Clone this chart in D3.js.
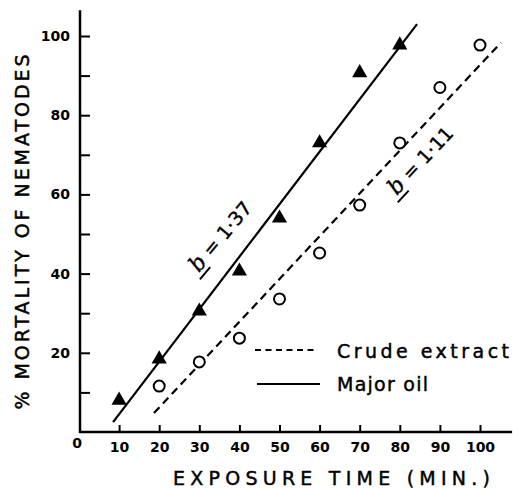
<!DOCTYPE html>
<html>
<head>
<meta charset="utf-8">
<script src="https://cdn.jsdelivr.net/npm/d3@7"></script>
<style>
  html, body { margin: 0; padding: 0; background: #fff; }
  svg text { font-family: 'DejaVu Sans', sans-serif; fill: #000; }
  .tick text { font-weight: bold; font-size: 14px; }
  .title { font-size: 19px; stroke: #000; stroke-width: 0.45px; }
</style>
</head>
<body>
<div id="chart"></div>
<script>
(function () {
  'use strict';

  // -----------------------------------------------------------------
  // Data
  // -----------------------------------------------------------------
  var majorTime = [10, 20, 30, 40, 50, 60, 70, 80];
  var majorMort = [8, 18.4, 30.5, 40.6, 54, 73, 90.7, 97.7];

  var crudeTime = [20, 30, 40, 50, 60, 70, 80, 90, 100];
  var crudeMort = [11.6, 17.7, 23.7, 33.6, 45.2, 57.3, 73, 87, 97.7];

  // fitted regression lines (end points as drawn)
  var majorFit = [[8.5, 2.5], [84.3, 103]];
  var crudeFit = [[18.7, 4.8], [105.2, 98.3]];

  var xTicks = [10, 20, 30, 40, 50, 60, 70, 80, 90, 100];
  var yTicks = [10, 20, 30, 40, 50, 60, 70, 80, 90, 100];
  var yLabels = [20, 40, 60, 80, 100];

  var W = 513, H = 489;

  var svg = d3.select('#chart').append('svg')
    .attr('width', W).attr('height', H)
    .attr('viewBox', '0 0 ' + W + ' ' + H);

  var x = d3.scaleLinear().domain([0, 100]).range([79, 480]);
  var y = d3.scaleLinear().domain([0, 100]).range([432, 36]);
  var ax = x(0) + 1;

  // -----------------------------------------------------------------
  // Axes
  // -----------------------------------------------------------------
  var yAxis = svg.append('g')
    .attr('transform', 'translate(' + ax + ',0)')
    .call(d3.axisLeft(y)
      .tickValues(yTicks)
      .tickSize(-10)
      .tickPadding(10)
      .tickFormat(function (d) { return yLabels.indexOf(d) >= 0 ? d : ''; }));
  yAxis.select('.domain').remove();
  yAxis.selectAll('.tick line').attr('stroke', '#000').attr('stroke-width', 2);

  var xAxis = svg.append('g')
    .attr('transform', 'translate(0,' + y(0) + ')')
    .call(d3.axisBottom(x)
      .tickValues(xTicks)
      .tickSize(-7)
      .tickPadding(10));
  xAxis.select('.domain').remove();
  xAxis.selectAll('.tick line').attr('stroke', '#000').attr('stroke-width', 2);

  // axis lines
  svg.append('line')
    .attr('x1', ax).attr('x2', ax)
    .attr('y1', y(0) + 1).attr('y2', y(106.5))
    .attr('stroke', '#000').attr('stroke-width', 2.5);
  svg.append('line')
    .attr('x1', ax - 1).attr('x2', x(108))
    .attr('y1', y(0)).attr('y2', y(0))
    .attr('stroke', '#000').attr('stroke-width', 2.5);

  // origin label
  svg.append('text')
    .attr('x', x(0) - 2).attr('y', y(0) + 16)
    .attr('text-anchor', 'middle')
    .style('font-weight', 'bold').style('font-size', '14px')
    .text('0');

  // axis titles
  svg.append('text')
    .attr('class', 'title')
    .attr('transform', 'translate(29,' + 232 + ') rotate(-90)')
    .attr('text-anchor', 'middle')
    .attr('textLength', 355).attr('lengthAdjust', 'spacing')
    .text('% MORTALITY OF NEMATODES');

  svg.append('text')
    .attr('class', 'title')
    .attr('x', 173).attr('y', 485)
    .attr('textLength', 317).attr('lengthAdjust', 'spacing')
    .text('EXPOSURE TIME (MIN.)');

  // -----------------------------------------------------------------
  // Fitted lines
  // -----------------------------------------------------------------
  var line = d3.line()
    .x(function (d) { return x(d[0]); })
    .y(function (d) { return y(d[1]); });

  svg.append('path')
    .attr('d', line(majorFit))
    .attr('fill', 'none').attr('stroke', '#000').attr('stroke-width', 2.2);

  svg.append('path')
    .attr('d', line(crudeFit))
    .attr('fill', 'none').attr('stroke', '#000').attr('stroke-width', 2.2)
    .attr('stroke-dasharray', '8,5');

  // -----------------------------------------------------------------
  // Points
  // -----------------------------------------------------------------
  var tri = d3.symbol().type(d3.symbolTriangle).size(100);
  svg.append('g').selectAll('path')
    .data(majorTime)
    .join('path')
    .attr('d', tri)
    .attr('transform', function (d, i) {
      return 'translate(' + x(d) + ',' + y(majorMort[i]) + ')';
    })
    .attr('fill', '#000');

  svg.append('g').selectAll('circle')
    .data(crudeTime)
    .join('circle')
    .attr('cx', function (d) { return x(d); })
    .attr('cy', function (d, i) { return y(crudeMort[i]); })
    .attr('r', 5.5)
    .attr('fill', '#fff')
    .attr('stroke', '#000').attr('stroke-width', 2);

  // -----------------------------------------------------------------
  // Slope annotations
  // -----------------------------------------------------------------
  function slopeLabel(cx, cy, angle, value) {
    var g = svg.append('g')
      .attr('transform', 'translate(' + cx + ',' + cy + ') rotate(' + angle + ')');
    var t = g.append('text')
      .attr('x', -40).attr('y', 7)
      .style('font-size', '19px')
      .style('stroke', '#000').style('stroke-width', '0.4px');
    t.append('tspan')
      .style('font-style', 'italic').style('font-family', 'DejaVu Serif, serif')
      .style('font-size', '22px')
      .text('b');
    t.append('tspan').text(' = ' + value);
    g.append('line')
      .attr('x1', -44).attr('x2', -28)
      .attr('y1', 12).attr('y2', 12)
      .attr('stroke', '#000').attr('stroke-width', 2);
  }
  slopeLabel(219, 238, -50, '1·37');
  slopeLabel(419, 162, -47, '1·11');

  // -----------------------------------------------------------------
  // Legend
  // -----------------------------------------------------------------
  var legend = svg.append('g');
  legend.append('line')
    .attr('x1', 255).attr('x2', 318).attr('y1', 350).attr('y2', 350)
    .attr('stroke', '#000').attr('stroke-width', 2)
    .attr('stroke-dasharray', '6,4.5');
  legend.append('line')
    .attr('x1', 257).attr('x2', 320).attr('y1', 384).attr('y2', 384)
    .attr('stroke', '#000').attr('stroke-width', 2);
  legend.append('text')
    .attr('class', 'title')
    .attr('x', 337).attr('y', 358)
    .attr('textLength', 172).attr('lengthAdjust', 'spacing')
    .text('Crude extract');
  legend.append('text')
    .attr('class', 'title')
    .attr('x', 337).attr('y', 391)
    .attr('textLength', 91).attr('lengthAdjust', 'spacing')
    .text('Major oil');

})();
</script>
</body>
</html>
